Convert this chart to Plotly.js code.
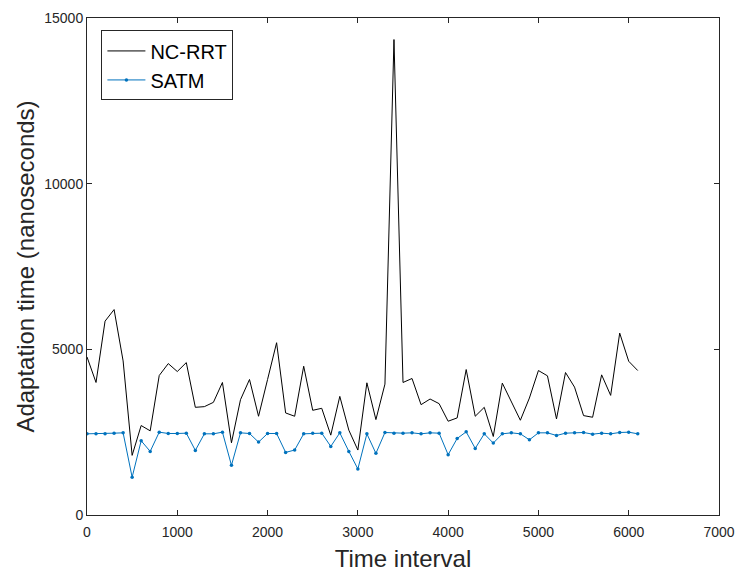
<!DOCTYPE html>
<html>
<head>
<meta charset="utf-8">
<script src="https://cdn.plot.ly/plotly-3.0.1.min.js"></script>
<style>
html,body{margin:0;padding:0;background:#fff;}
#chart{width:737px;height:572px;}
</style>
</head>
<body>
<div id="chart"></div>
<script>
const timeInterval = [0,100,200,300,400,500,600,700,800,900,1000,1100,1200,1300,1400,1500,1600,1700,1800,1900,2000,2100,2200,2300,2400,2500,2600,2700,2800,2900,3000,3100,3200,3300,3400,3500,3600,3700,3800,3900,4000,4100,4200,4300,4400,4500,4600,4700,4800,4900,5000,5100,5200,5300,5400,5500,5600,5700,5800,5900,6000,6100];
const ncRrt = [4770,4000,5850,6200,4650,1800,2700,2540,4210,4570,4330,4600,3250,3270,3400,4000,2180,3480,4090,2980,4090,5200,3080,2980,4490,3160,3220,2410,3580,2560,1960,3990,2880,3950,14350,4000,4120,3330,3500,3360,2830,2930,4390,2980,3250,2370,3980,3430,2860,3530,4360,4200,2900,4300,3860,3000,2950,4230,3610,5490,4640,4360];
const satm = [2450,2450,2450,2470,2480,1140,2240,1920,2500,2460,2460,2470,1950,2450,2450,2500,1500,2480,2460,2200,2460,2460,1890,1960,2450,2470,2470,2070,2480,1920,1390,2450,1860,2490,2470,2470,2480,2450,2480,2470,1820,2310,2510,2010,2450,2170,2450,2480,2450,2270,2480,2480,2400,2470,2480,2490,2440,2470,2450,2490,2500,2450];
const seriesNames = ["NC-RRT","SATM"];
const xTitle = "Time interval";
const yTitle = "Adaptation time (nanoseconds)";

const axisColor = '#262626';
const fontFam = '"Liberation Sans", Arial, Helvetica, sans-serif';

const traces = [
  {x: timeInterval, y: ncRrt, name: seriesNames[0], type: 'scatter', mode: 'lines',
   line: {color: '#000000', width: 1}},
  {x: timeInterval, y: satm, name: seriesNames[1], type: 'scatter', mode: 'lines+markers',
   line: {color: '#0072BD', width: 1}, marker: {color: '#0072BD', size: 3.5, symbol: 'circle'}}
];

const axisCommon = {
  showline: true, linecolor: axisColor, linewidth: 1, mirror: 'allticks',
  ticks: 'inside', ticklen: 5, tickcolor: axisColor, tickwidth: 1,
  showgrid: false, zeroline: false,
  tickfont: {family: fontFam, size: 14, color: axisColor},
  automargin: false
};

const layout = {
  width: 737, height: 572,
  margin: {l: 87, r: 18, t: 18, b: 57, pad: 0},
  paper_bgcolor: '#ffffff', plot_bgcolor: '#ffffff',
  font: {family: fontFam, color: axisColor},
  showlegend: true,
  legend: {x: 0.0228, y: 0.975, xanchor: 'left', yanchor: 'top',
           bgcolor: '#ffffff', bordercolor: axisColor, borderwidth: 1,
           itemwidth: 38, tracegroupgap: 0,
           font: {family: fontFam, size: 20, color: '#000000'}},
  xaxis: Object.assign({}, axisCommon, {
    range: [0, 7000], dtick: 1000, tick0: 0, tickformat: 'd', ticklabelstandoff: 4,
    title: {text: xTitle, font: {family: fontFam, size: 24, color: axisColor}, standoff: 11}
  }),
  yaxis: Object.assign({}, axisCommon, {
    range: [0, 15000], dtick: 5000, tick0: 0, tickformat: 'd',
    title: {text: yTitle, font: {family: fontFam, size: 24, color: axisColor}, standoff: 2}
  })
};

Plotly.newPlot('chart', traces, layout, {displayModeBar: false, staticPlot: true});
</script>
</body>
</html>
